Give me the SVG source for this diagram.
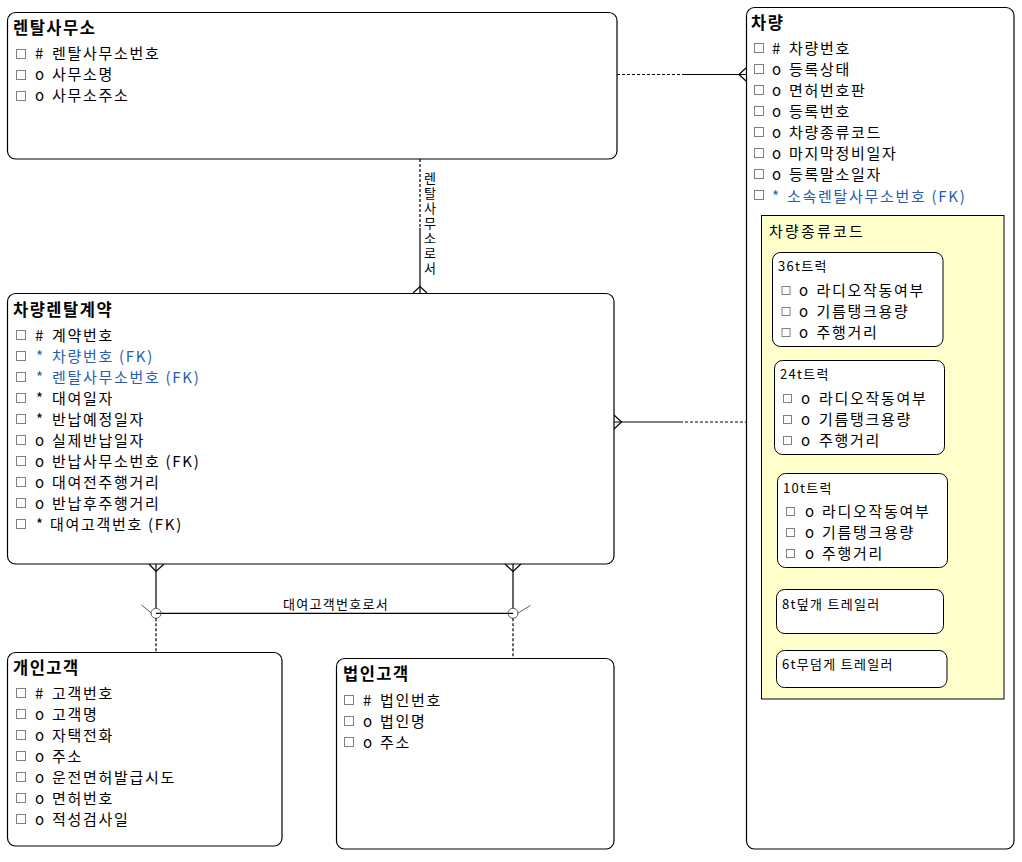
<svg xmlns="http://www.w3.org/2000/svg" width="1022" height="862" viewBox="0 0 1022 862">
<style>
text{font-family:"Noto Sans CJK KR","Noto Sans",sans-serif;fill:#000}
.box{fill:#fff;stroke:#000;stroke-width:1.2}
.sub{fill:#fff;stroke:#000;stroke-width:1}
.yel{fill:#ffffcc;stroke:#000;stroke-width:1}
.t{font-size:16.5px;font-weight:bold;letter-spacing:1.5px}
.a{font-size:15px;letter-spacing:1.7px}
.s{font-size:13px;letter-spacing:1.3px}
.yt{font-size:15px;letter-spacing:2.2px}
.v{font-size:13px;writing-mode:vertical-rl;text-orientation:upright;letter-spacing:2px}
.fk{fill:#2a5db0}
.cb{fill:none;stroke:#808080;stroke-width:1}
.ln{fill:none;stroke:#000;stroke-width:1.2}
.ds{fill:none;stroke:#000;stroke-width:1.2;stroke-dasharray:3,2}
.gr{fill:none;stroke:#606060;stroke-width:1}
</style>
<g id="connectors">
<line class="ds" x1="617" y1="74.5" x2="682" y2="74.5"/>
<line class="ln" x1="682" y1="74.5" x2="746" y2="74.5"/>
<path class="ln" d="M746,68 L739,74.5 L746,81"/>
<line class="ds" x1="420" y1="159" x2="420" y2="228"/>
<line class="ln" x1="420" y1="228" x2="420" y2="293"/>
<path class="ln" d="M413,293 L420,286.5 L427,293"/>
<text class="v" x="430" y="172">렌탈사무소로서</text>
<line class="ln" x1="614" y1="422" x2="680" y2="422"/>
<line class="ds" x1="680" y1="422" x2="746" y2="422"/>
<path class="ln" d="M614,415 L621.5,422 L614,429"/>
<path class="ln" d="M149,564 L156,571.5 L164,564"/>
<path class="ln" d="M505,564 L513,571.5 L521,564"/>
<line class="ln" x1="156" y1="564" x2="156" y2="608.3"/>
<line class="ln" x1="513" y1="564" x2="513" y2="608.3"/>
<line class="ln" x1="156" y1="613.3" x2="513" y2="613.3"/>
<circle class="gr" cx="156" cy="613.3" r="5"/>
<circle class="gr" cx="513" cy="613.3" r="5"/>
<line class="gr" x1="141.5" y1="605" x2="152" y2="613.5"/>
<line class="gr" x1="517" y1="613.5" x2="530.5" y2="605.5"/>
<line class="ds" x1="156" y1="618.3" x2="156" y2="652"/>
<line class="ds" x1="513" y1="618.3" x2="513" y2="658"/>
<text class="s" x="336" y="609" text-anchor="middle">대여고객번호로서</text>
</g>
<g id="rental_office">
<rect class="box" x="7.5" y="12.5" width="609.5" height="146.5" rx="8"/>
<text class="t" x="13" y="34">렌탈사무소</text>
<rect class="cb" x="16.5" y="49.5" width="9" height="9"/>
<rect class="cb" x="16.5" y="70.5" width="9" height="9"/>
<rect class="cb" x="16.5" y="91.5" width="9" height="9"/>
<text class="a" x="35" y="59">#</text><text class="a" x="52" y="59">렌탈사무소번호</text>
<text class="a" x="35" y="80">o</text><text class="a" x="52" y="80">사무소명</text>
<text class="a" x="35" y="101">o</text><text class="a" x="52" y="101">사무소주소</text>
</g>
<g id="vehicle">
<rect class="box" x="746.5" y="7.5" width="267.5" height="841.5" rx="8"/>
<text class="t" x="751" y="29">차량</text>
<rect class="cb" x="754.5" y="43.5" width="9" height="9"/>
<rect class="cb" x="754.5" y="64.5" width="9" height="9"/>
<rect class="cb" x="754.5" y="85.5" width="9" height="9"/>
<rect class="cb" x="754.5" y="106.5" width="9" height="9"/>
<rect class="cb" x="754.5" y="127.5" width="9" height="9"/>
<rect class="cb" x="754.5" y="148.5" width="9" height="9"/>
<rect class="cb" x="754.5" y="169.5" width="9" height="9"/>
<rect class="cb" x="754.5" y="190.5" width="9" height="9"/>
<text class="a" x="772" y="54">#</text><text class="a" x="789" y="54">차량번호</text>
<text class="a" x="772" y="75">o</text><text class="a" x="789" y="75">등록상태</text>
<text class="a" x="772" y="96">o</text><text class="a" x="789" y="96">면허번호판</text>
<text class="a" x="772" y="117">o</text><text class="a" x="789" y="117">등록번호</text>
<text class="a" x="772" y="138">o</text><text class="a" x="789" y="138">차량종류코드</text>
<text class="a" x="772" y="159">o</text><text class="a" x="789" y="159">마지막정비일자</text>
<text class="a" x="772" y="180">o</text><text class="a" x="789" y="180">등록말소일자</text>
<text class="a fk" x="772" y="202">*</text><text class="a fk" x="787" y="202">소속렌탈사무소번호 (FK)</text>
</g>
<g id="vehicle_type">
<rect class="yel" x="761.5" y="215.5" width="242.5" height="483.5"/>
<text class="yt" x="769" y="237">차량종류코드</text>
</g>
<g id="truck36">
<rect class="sub" x="772.5" y="252.5" width="170.5" height="94" rx="8"/>
<text class="s" x="778" y="271">36t트럭</text>
<rect class="cb" x="782" y="286.5" width="8" height="8"/>
<rect class="cb" x="782" y="307.5" width="8" height="8"/>
<rect class="cb" x="782" y="328.5" width="8" height="8"/>
<text class="a" x="799" y="296">o</text><text class="a" x="816.5" y="296">라디오작동여부</text>
<text class="a" x="799" y="317">o</text><text class="a" x="816.5" y="317">기름탱크용량</text>
<text class="a" x="799" y="338">o</text><text class="a" x="816.5" y="338">주행거리</text>
</g>
<g id="truck24">
<rect class="sub" x="774.5" y="360.5" width="170" height="94" rx="8"/>
<text class="s" x="780" y="379">24t트럭</text>
<rect class="cb" x="783.5" y="394.5" width="8" height="8"/>
<rect class="cb" x="783.5" y="415.5" width="8" height="8"/>
<rect class="cb" x="783.5" y="436.5" width="8" height="8"/>
<text class="a" x="801" y="404">o</text><text class="a" x="819" y="404">라디오작동여부</text>
<text class="a" x="801" y="425">o</text><text class="a" x="819" y="425">기름탱크용량</text>
<text class="a" x="801" y="446">o</text><text class="a" x="819" y="446">주행거리</text>
</g>
<g id="truck10">
<rect class="sub" x="777.5" y="473.5" width="170" height="94" rx="8"/>
<text class="s" x="783" y="493">10t트럭</text>
<rect class="cb" x="786.5" y="507.5" width="8" height="8"/>
<rect class="cb" x="786.5" y="528.5" width="8" height="8"/>
<rect class="cb" x="786.5" y="549.5" width="8" height="8"/>
<text class="a" x="805" y="517">o</text><text class="a" x="822" y="517">라디오작동여부</text>
<text class="a" x="805" y="538">o</text><text class="a" x="822" y="538">기름탱크용량</text>
<text class="a" x="805" y="559">o</text><text class="a" x="822" y="559">주행거리</text>
</g>
<g id="trailer8">
<rect class="sub" x="776.5" y="589.5" width="167" height="44" rx="8"/>
<text class="s" x="782" y="609">8t덮개 트레일러</text>
</g>
<g id="trailer6">
<rect class="sub" x="776.5" y="650.5" width="170.5" height="37" rx="8"/>
<text class="s" x="782" y="669">6t무덤게 트레일러</text>
</g>
<g id="rental_contract">
<rect class="box" x="7.5" y="293.5" width="606.5" height="270.5" rx="8"/>
<text class="t" x="13" y="316">차량렌탈계약</text>
<rect class="cb" x="16.5" y="330.5" width="9" height="9"/>
<rect class="cb" x="16.5" y="351.5" width="9" height="9"/>
<rect class="cb" x="16.5" y="372.5" width="9" height="9"/>
<rect class="cb" x="16.5" y="393.5" width="9" height="9"/>
<rect class="cb" x="16.5" y="414.5" width="9" height="9"/>
<rect class="cb" x="16.5" y="435.5" width="9" height="9"/>
<rect class="cb" x="16.5" y="456.5" width="9" height="9"/>
<rect class="cb" x="16.5" y="477.5" width="9" height="9"/>
<rect class="cb" x="16.5" y="498.5" width="9" height="9"/>
<rect class="cb" x="16.5" y="519.5" width="9" height="9"/>
<text class="a" x="35" y="340.5">#</text><text class="a" x="52" y="340.5">계약번호</text>
<text class="a fk" x="36" y="362">*</text><text class="a fk" x="52" y="361.5">차량번호 (FK)</text>
<text class="a fk" x="36" y="383">*</text><text class="a fk" x="52" y="382.5">렌탈사무소번호 (FK)</text>
<text class="a" x="36" y="404">*</text><text class="a" x="52" y="403.5">대여일자</text>
<text class="a" x="36" y="425">*</text><text class="a" x="52" y="424.5">반납예정일자</text>
<text class="a" x="35" y="445.5">o</text><text class="a" x="52" y="445.5">실제반납일자</text>
<text class="a" x="35" y="466.5">o</text><text class="a" x="52" y="466.5">반납사무소번호 (FK)</text>
<text class="a" x="35" y="487.5">o</text><text class="a" x="52" y="487.5">대여전주행거리</text>
<text class="a" x="35" y="508.5">o</text><text class="a" x="52" y="508.5">반납후주행거리</text>
<text class="a" x="36" y="530">*</text><text class="a" x="50" y="529.5">대여고객번호 (FK)</text>
</g>
<g id="personal_customer">
<rect class="box" x="7.5" y="652.5" width="274.5" height="193.5" rx="8"/>
<text class="t" x="13" y="674">개인고객</text>
<rect class="cb" x="16.5" y="688.5" width="9" height="9"/>
<rect class="cb" x="16.5" y="709.5" width="9" height="9"/>
<rect class="cb" x="16.5" y="730.5" width="9" height="9"/>
<rect class="cb" x="16.5" y="751.5" width="9" height="9"/>
<rect class="cb" x="16.5" y="772.5" width="9" height="9"/>
<rect class="cb" x="16.5" y="793.5" width="9" height="9"/>
<rect class="cb" x="16.5" y="814.5" width="9" height="9"/>
<text class="a" x="35" y="699">#</text><text class="a" x="52" y="699">고객번호</text>
<text class="a" x="35" y="720">o</text><text class="a" x="52" y="720">고객명</text>
<text class="a" x="35" y="741">o</text><text class="a" x="52" y="741">자택전화</text>
<text class="a" x="35" y="762">o</text><text class="a" x="52" y="762">주소</text>
<text class="a" x="35" y="783">o</text><text class="a" x="52" y="783">운전면허발급시도</text>
<text class="a" x="35" y="804">o</text><text class="a" x="52" y="804">면허번호</text>
<text class="a" x="35" y="825">o</text><text class="a" x="52" y="825">적성검사일</text>
</g>
<g id="corporate_customer">
<rect class="box" x="336.5" y="658.5" width="277.5" height="190.5" rx="8"/>
<text class="t" x="343" y="680">법인고객</text>
<rect class="cb" x="344.5" y="695.5" width="9" height="9"/>
<rect class="cb" x="344.5" y="716.5" width="9" height="9"/>
<rect class="cb" x="344.5" y="737.5" width="9" height="9"/>
<text class="a" x="363" y="706">#</text><text class="a" x="380" y="706">법인번호</text>
<text class="a" x="363" y="727">o</text><text class="a" x="380" y="727">법인명</text>
<text class="a" x="363" y="748">o</text><text class="a" x="380" y="748">주소</text>
</g>
</svg>
